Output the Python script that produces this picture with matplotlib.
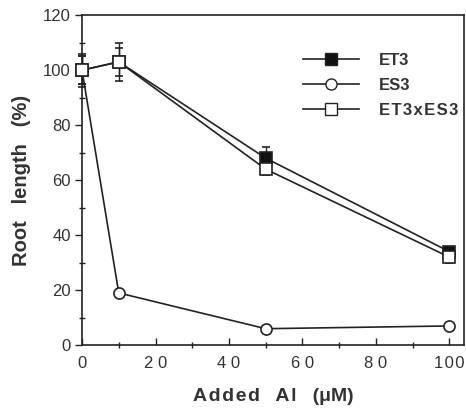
import matplotlib
matplotlib.use("Agg")
import matplotlib.pyplot as plt
from matplotlib.ticker import FixedLocator
from matplotlib.lines import Line2D

plt.rcParams['font.family'] = ['Liberation Sans', 'DejaVu Sans']

al = [0, 10, 50, 100]
et3 = [100, 103, 68, 34]
et3_err = [6, 7, 4, 1.5]
es3 = [100, 19, 6, 7]
es3_err = [5, 1, 0.5, 0.5]
hyb = [100, 103, 64, 32]
hyb_err = [5, 5, 2, 2]

xticks = [0, 20, 40, 60, 80, 100]
xticklabels = ['0', '2 0', '4 0', '6 0', '8 0', '1\u200a0\u200a0']
yticks = [0, 20, 40, 60, 80, 100, 120]
series_names = ['ET3', 'ES3', 'E\u200aT\u200a3\u200ax\u200aE\u200aS\u200a3']

fig = plt.figure(figsize=(4.66, 4.09), dpi=100)
ax = fig.add_axes([0.176, 0.156, 0.820, 0.807])

lw = 1.2
ms = 8
dark = '#222222'
txt = '#333333'
ax.errorbar(al, es3, yerr=es3_err, color=dark, lw=lw, marker='o', ms=ms,
            mfc='white', mec=dark, mew=1.2, capsize=3, elinewidth=1.0,
            clip_on=False, zorder=3)
ax.errorbar(al, et3, yerr=et3_err, color=dark, lw=lw, marker='s', ms=ms,
            mfc='#111111', mec=dark, mew=1.2, capsize=3, elinewidth=1.0,
            clip_on=False, zorder=4)
ax.errorbar(al, hyb, yerr=hyb_err, color=dark, lw=lw, marker='s', ms=ms,
            mfc='white', mec=dark, mew=1.2, capsize=3, elinewidth=1.0,
            clip_on=False, zorder=5)

ax.set_xlim(0, 104)
ax.set_ylim(0, 120)
ax.set_xticks(xticks)
ax.set_xticklabels(xticklabels)
ax.set_yticks(yticks)
ax.xaxis.set_minor_locator(FixedLocator([10, 30, 50, 70, 90]))
ax.yaxis.set_minor_locator(FixedLocator([10, 30, 50, 70, 90, 110]))
ax.tick_params(axis='x', which='major', direction='in', length=5, width=1.0,
               labelsize=12, pad=8, colors=dark, labelcolor=txt)
ax.tick_params(axis='x', which='minor', direction='inout', length=4, width=1.0,
               colors=dark)
ax.tick_params(axis='y', which='major', direction='out', length=5, width=1.0,
               labelsize=12, pad=3, colors=dark, labelcolor=txt)
ax.tick_params(axis='y', which='minor', direction='inout', length=4, width=1.0,
               colors=dark)
for s in ax.spines.values():
    s.set_linewidth(1.2)
    s.set_color(dark)

ax.set_xlabel('A\u200ad\u200ad\u200ae\u200ad   A\u200al   (\u03bcM)', fontsize=14,
              fontweight='bold', color=txt, labelpad=12)
ax.set_ylabel('Root   length   (%)', fontsize=14.5,
              fontweight='bold', color=txt, labelpad=9)

handles = [
    Line2D([], [], color=dark, lw=lw, marker='s', ms=ms, mfc='#111111', mec=dark),
    Line2D([], [], color=dark, lw=lw, marker='o', ms=ms, mfc='white', mec=dark),
    Line2D([], [], color=dark, lw=lw, marker='s', ms=ms, mfc='white', mec=dark),
]
leg = ax.legend(handles, series_names, loc='upper left',
                bbox_to_anchor=(0.56, 0.905), frameon=False, handlelength=3.4,
                handletextpad=1.2, labelspacing=0.6, borderaxespad=0,
                prop={'weight': 'bold', 'size': 12})
for t in leg.get_texts():
    t.set_color(txt)

fig.savefig('out.png', dpi=100)
